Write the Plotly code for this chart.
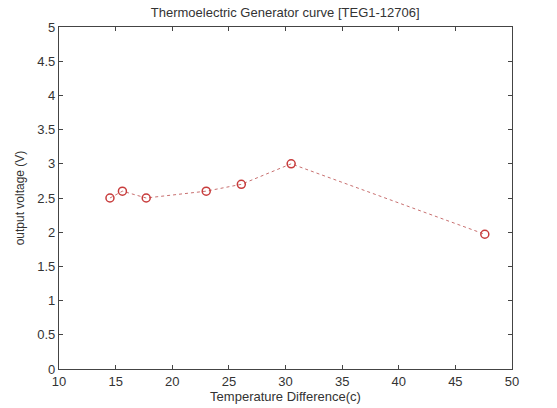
import plotly.graph_objects as go

# temperature difference (c) vs output voltage (V)
temp_diff = [14.5, 15.6, 17.7, 23.0, 26.1, 30.5, 47.6]
voltage = [2.5, 2.6, 2.5, 2.6, 2.7, 3.0, 1.97]

x_ticks = [10, 15, 20, 25, 30, 35, 40, 45, 50]
y_ticks = [0, 0.5, 1, 1.5, 2, 2.5, 3, 3.5, 4, 4.5, 5]
y_labels = ["0", "0.5", "1", "1.5", "2", "2.5", "3", "3.5", "4", "4.5", "5"]

FONT = "Liberation Sans, Arial"

fig = go.Figure()
fig.add_trace(go.Scatter(
    x=temp_diff, y=voltage, mode="lines+markers",
    line=dict(color="#c87070", width=1, dash="dot"),
    marker=dict(symbol="circle-open", size=8, color="#c83c3c", line=dict(width=1.5)),
))

axis_style = dict(
    showgrid=False, zeroline=False, showline=True, linecolor="#444", linewidth=1.2,
    mirror="ticks", ticks="inside", ticklen=4, tickcolor="#444", automargin=False,
    tickfont=dict(family=FONT, size=13, color="#333"),
)
fig.update_xaxes(range=[10, 50], tickvals=x_ticks, **axis_style,
                 title=dict(text="Temperature Difference(c)", standoff=3,
                            font=dict(family=FONT, size=13, color="#333")))
fig.update_yaxes(range=[0, 5], tickvals=y_ticks, ticktext=y_labels, **axis_style,
                 title=dict(text="output voltage (V)", standoff=10,
                            font=dict(family=FONT, size=12, color="#333")))

fig.update_layout(
    width=557, height=408,
    margin=dict(l=59, r=45, t=27, b=39, autoexpand=False),
    paper_bgcolor="white", plot_bgcolor="white",
    showlegend=False,
    title=dict(text="Thermoelectric Generator curve [TEG1-12706]", x=0.512, xanchor="center",
               y=0.97, yanchor="middle",
               font=dict(family=FONT, size=13, color="#333")),
)

# drop the browser's default body margin so the figure sits at the page corner
fig.write_html("out.html", config={"displayModeBar": False},
               post_script="document.body.style.margin='0';")
